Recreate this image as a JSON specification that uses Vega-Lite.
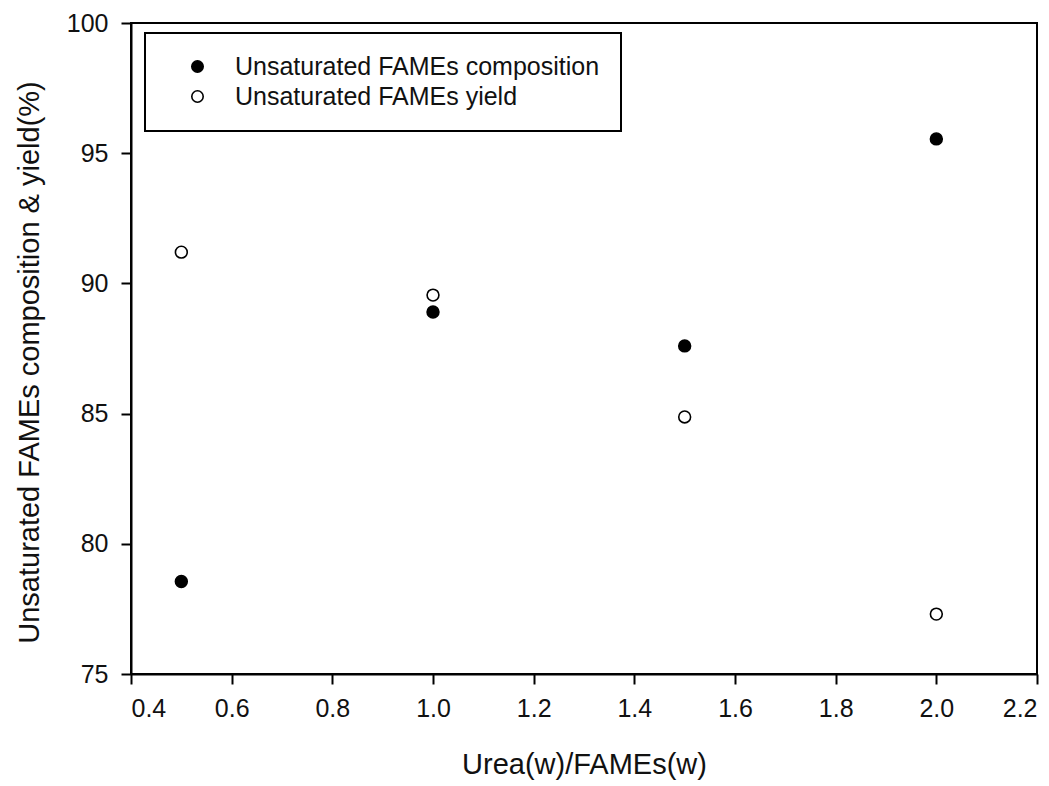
{
  "$schema": "https://vega.github.io/schema/vega-lite/v6.json",
  "width": 906,
  "height": 651,
  "autosize": "none",
  "padding": {"left": 131, "top": 23, "right": 12, "bottom": 112},
  "background": "white",
  "data": {
    "values": [
      {"ratio": 0.5, "value": 78.55, "series": "Unsaturated FAMEs composition"},
      {"ratio": 1.0, "value": 88.9, "series": "Unsaturated FAMEs composition"},
      {"ratio": 1.5, "value": 87.6, "series": "Unsaturated FAMEs composition"},
      {"ratio": 2.0, "value": 95.55, "series": "Unsaturated FAMEs composition"},
      {"ratio": 0.5, "value": 91.2, "series": "Unsaturated FAMEs yield"},
      {"ratio": 1.0, "value": 89.55, "series": "Unsaturated FAMEs yield"},
      {"ratio": 1.5, "value": 84.87, "series": "Unsaturated FAMEs yield"},
      {"ratio": 2.0, "value": 77.3, "series": "Unsaturated FAMEs yield"}
    ]
  },
  "mark": {"type": "point", "filled": true, "stroke": "black", "strokeWidth": 1.6, "size": 140, "opacity": 1, "shape": "circle"},
  "encoding": {
    "x": {
      "field": "ratio", "type": "quantitative",
      "scale": {"domain": [0.4, 2.2], "nice": false, "zero": false},
      "axis": {"values": [0.4, 0.6, 0.8, 1.0, 1.2, 1.4, 1.6, 1.8, 2.0, 2.2], "format": ".1f", "title": "Urea(w)/FAMEs(w)", "titlePadding": 29, "labelPadding": 12, "labelFontSize": 25, "titleFontSize": 29}
    },
    "y": {
      "field": "value", "type": "quantitative",
      "scale": {"domain": [75, 100], "nice": false, "zero": false},
      "axis": {"values": [75, 80, 85, 90, 95, 100], "title": "Unsaturated FAMEs composition & yield(%)", "titlePadding": 22, "titleY": 339, "labelPadding": 13, "labelFontSize": 25, "titleFontSize": 29}
    },
    "fill": {
      "field": "series", "type": "nominal",
      "scale": {"domain": ["Unsaturated FAMEs composition", "Unsaturated FAMEs yield"], "range": ["black", "white"]},
      "legend": {
        "title": null, "orient": "none", "legendX": 14, "legendY": 10,
        "strokeColor": "black", "padding": 21, "symbolOffset": 19,
        "symbolType": "circle", "symbolSize": 130, "symbolStrokeColor": "black", "symbolStrokeWidth": 1.6,
        "labelFontSize": 25, "labelFont": "Liberation Sans", "labelColor": "#111", "labelOffset": 25,
        "rowPadding": 4, "labelLimit": 600
      }
    }
  },
  "config": {
    "view": {"stroke": "black", "strokeWidth": 2},
    "axis": {
      "grid": false, "domainColor": "black", "domainWidth": 2, "tickColor": "black", "tickWidth": 2, "tickSize": 10,
      "labelFont": "Liberation Sans", "labelFontSize": 25, "labelColor": "#111",
      "titleFont": "Liberation Sans", "titleFontSize": 29, "titleFontWeight": "normal", "titleColor": "#111"
    },
    "legend": {"strokeWidth": 2}
  }
}
